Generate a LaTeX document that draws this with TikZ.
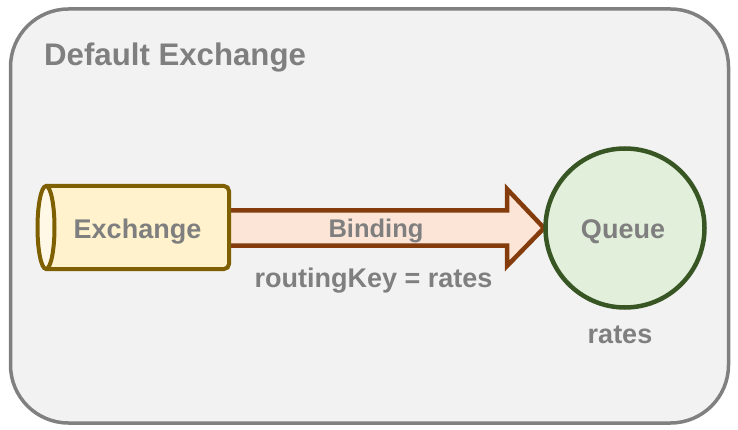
\documentclass[tikz,border=0pt]{standalone}
\usepackage{fontspec}
\setmainfont{Liberation Sans}
\begin{document}
\begin{tikzpicture}[x=1pt,y=-1pt,
  lbl/.style={text=txtgray,font=\bfseries\fontsize{27}{30}\selectfont,inner sep=0pt,anchor=base},
]
\definecolor{txtgray}{HTML}{7F7F7F}
\definecolor{boxgray}{HTML}{808080}
\definecolor{boxfill}{HTML}{F2F2F2}
\definecolor{cylfill}{HTML}{FFF2CC}
\definecolor{cylface}{HTML}{FFF8E6}
\definecolor{cyldraw}{HTML}{7F6000}
\definecolor{arrfill}{HTML}{FCE4D6}
\definecolor{arrdraw}{HTML}{843C0C}
\definecolor{qfill}{HTML}{E2EFDA}
\definecolor{qdraw}{HTML}{375623}
\useasboundingbox (0,0) rectangle (738,430);
\fill[white] (0,0) rectangle (738,430);
% outer box
\draw[boxgray,line width=3.5pt,fill=boxfill,rounded corners=58pt] (10.5,9) rectangle (728.5,423);
\node[lbl,anchor=base west,font=\bfseries\fontsize{31.2}{34}\selectfont] (title) at (44,66) {Default Exchange};
% binding arrow
\draw[arrdraw,fill=arrfill,line width=4.5pt,line join=miter] (226,210.5) -- (507,210.5) -- (507,189) -- (544,228) -- (507,266) -- (507,245.5) -- (226,245.5) -- cycle;
% cylinder
\draw[cyldraw,fill=cylfill,line width=4pt,rounded corners=5pt] (46,186) -- (229,186) -- (229,269) -- (46,269);
\fill[cylfill] (46,188) rectangle (60,267);
\draw[cyldraw,fill=cylface,line width=4pt] (46,227.5) ellipse [x radius=8.5,y radius=41.5];
\node[lbl] (exch) at (137.5,238) {Exchange};
\node[lbl,font=\bfseries\fontsize{25.5}{30}\selectfont] (bind) at (376,237) {Binding};
\node[lbl] (rk) at (373.5,287) {routingKey = rates};
% queue
\node[circle,draw=qdraw,fill=qfill,line width=4.5pt,minimum size=159pt,inner sep=0pt] (q) at (625,228) {};
\node[lbl] (qt) at (623,239) {Queue};
\node[lbl] (rates) at (620,343) {rates};
\end{tikzpicture}
\end{document}
